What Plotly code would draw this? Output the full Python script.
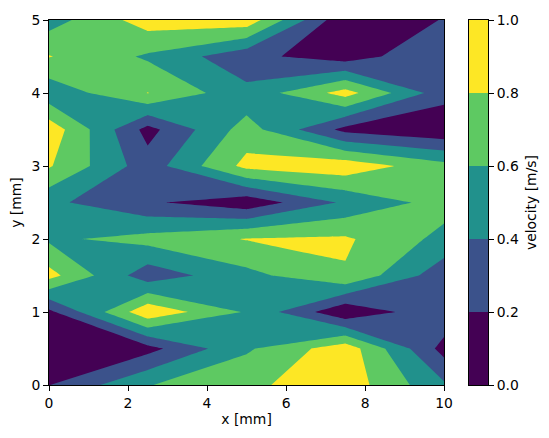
import plotly.graph_objects as go

# grid coordinates
x_mm = [0, 2.5, 5, 7.5, 10]
y_mm = [0, 0.5, 1.0, 1.5, 2.0, 2.5, 3.0, 3.5, 4.0, 4.5, 5.0]

# velocity values, one row per y (bottom to top)
v_y00 = [0.195, 0.59, 0.76, 0.92, 0.43]
v_y05 = [0.05, 0.13, 0.57, 0.92, 0.125]
v_y10 = [0.15, 0.95, 0.58, 0.03, 0.36]
v_y15 = [0.87, 0.28, 0.54, 0.78, 0.27]
v_y20 = [0.566, 0.67, 0.81, 0.83, 0.54]
v_y25 = [0.445, 0.23, 0.063, 0.436, 0.68]
v_y30 = [0.82, 0.29, 0.86, 0.93, 0.67]
v_y35 = [0.93, 0.13, 0.69, 0.14, 0.03]
v_y40 = [0.46, 0.805, 0.46, 0.88, 0.28]
v_y45 = [0.81, 0.57, 0.26, 0.09, 0.39]
v_y50 = [0.51, 0.90, 0.93, 0.03, 0.21]

velocity = [v_y00, v_y05, v_y10, v_y15, v_y20, v_y25,
            v_y30, v_y35, v_y40, v_y45, v_y50]

levels = [0.0, 0.2, 0.4, 0.6, 0.8, 1.0]
band_colors = ["#440154", "#3b528b", "#21918c", "#5ec962", "#fde725"]

b = [0, 0.25, 0.4167, 0.5833, 0.75, 1.0]
colorscale = []
for i, c in enumerate(band_colors):
    colorscale.append([b[i], c])
    colorscale.append([b[i + 1], c])

font = dict(family="DejaVu Sans", size=13.9, color="black")

fig = go.Figure()
fig.add_trace(go.Contour(
    x=x_mm, y=y_mm, z=velocity,
    contours=dict(start=levels[0], end=levels[-1], size=0.2,
                  coloring="fill", showlines=False),
    line=dict(width=0, smoothing=0),
    colorscale=colorscale, showscale=False,
    xaxis="x", yaxis="y",
))

# colorbar drawn as stacked bands on its own axis
band_heights = [levels[i + 1] - levels[i] for i in range(len(band_colors))]
fig.add_trace(go.Bar(
    x=[0] * len(band_colors), y=band_heights, base=levels[:-1],
    width=1, marker=dict(color=band_colors, line=dict(width=0)),
    xaxis="x2", yaxis="y2", hoverinfo="skip", showlegend=False,
))

fig.update_layout(
    width=549, height=438,
    margin=dict(l=49, r=60, t=16, b=53),
    paper_bgcolor="white", plot_bgcolor="white",
    font=font, barmode="overlay", showlegend=False,
    xaxis=dict(domain=[0, 0.9], range=[0, 10], tickvals=[0, 2, 4, 6, 8, 10],
               ticks="outside", ticklen=5, tickwidth=1, tickcolor="black",
               showline=True, linecolor="black", linewidth=1, mirror=True,
               showgrid=False, zeroline=False, tickfont=font,
               title=dict(text="x [mm]", font=font, standoff=4)),
    yaxis=dict(range=[0, 5], tickvals=[0, 1, 2, 3, 4, 5],
               ticks="outside", ticklen=5, tickwidth=1, tickcolor="black",
               showline=True, linecolor="black", linewidth=1, mirror=True,
               showgrid=False, zeroline=False, tickfont=font,
               title=dict(text="y [mm]", font=font, standoff=6)),
    xaxis2=dict(domain=[0.9568, 1.0], range=[-0.5, 0.5], anchor="y2",
                showticklabels=False, ticks="", showgrid=False, zeroline=False,
                showline=True, linecolor="black", linewidth=1, mirror=True),
    yaxis2=dict(range=[0, 1], anchor="x2", side="right",
                tickvals=levels, ticktext=[f"{v:.1f}" for v in levels],
                ticks="outside", ticklen=5, tickwidth=1, tickcolor="black",
                showline=True, linecolor="black", linewidth=1, mirror=True,
                showgrid=False, zeroline=False, tickfont=font,
                title=dict(text="velocity [m/s]", font=font, standoff=8)),
)

fig.write_html("out.html")
